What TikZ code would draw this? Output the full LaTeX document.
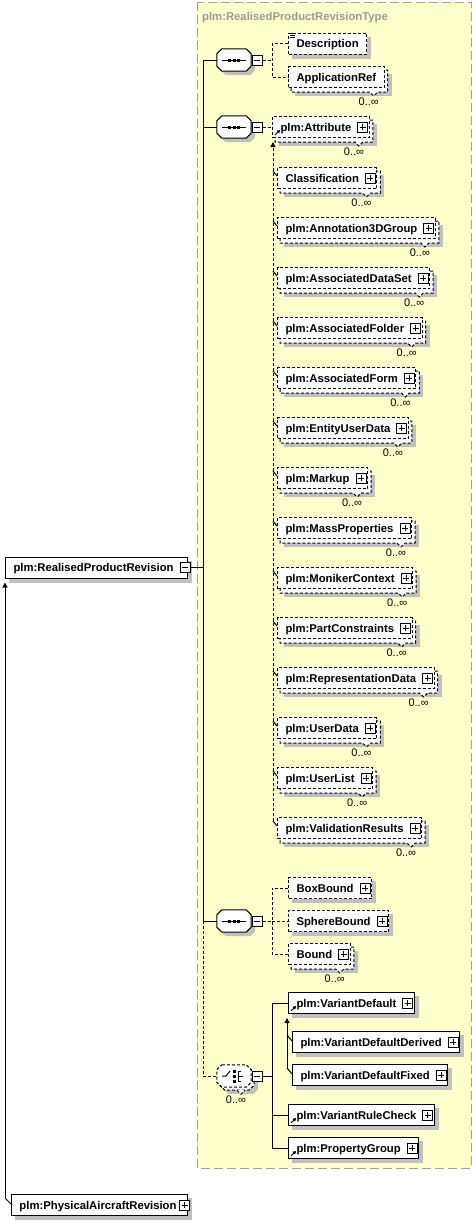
\documentclass[tikz,border=0pt]{standalone}
\usepackage{fontspec}
\setmainfont{Liberation Sans}
\usetikzlibrary{calc,arrows.meta}
\pgfdeclarelayer{bgl}
\pgfdeclarelayer{shl}
\pgfdeclarelayer{bkl}
\pgfsetlayers{bgl,shl,bkl,main}
\definecolor{typefill}{HTML}{FFFFCC}
\definecolor{shadowgray}{HTML}{C0C0C0}
\definecolor{titlegray}{HTML}{9A9A9A}
\definecolor{typeborder}{HTML}{A0A0A0}
\newcommand{\plsp}{\hspace*{10pt}}
\tikzset{
  ln/.style={line width=1pt, draw=black},
  opt/.style={dash pattern=on 3pt off 2pt},
  elem/.style={ln, fill=white, minimum height=21pt, inner xsep=8pt, inner ysep=0pt,
     text height=10.5pt, text depth=2.4pt,
     font=\fontsize{11.3}{13}\selectfont\bfseries, anchor=west},
  mult/.style={font=\fontsize{11}{12}\selectfont, inner sep=0pt},
  sqbox/.style={ln, solid, fill=white, minimum size=10pt, inner sep=0pt},
  minusbox/.style={sqbox, path picture={\draw[line width=1pt] ([xshift=2pt]path picture bounding box.west) -- ([xshift=-2pt]path picture bounding box.east);}},
  plusbox/.style={sqbox, path picture={\draw[line width=1pt] ([xshift=2pt]path picture bounding box.west) -- ([xshift=-2pt]path picture bounding box.east) ([yshift=-2pt]path picture bounding box.north) -- ([yshift=2pt]path picture bounding box.south);}},
  subtip/.style={-{Triangle[length=5pt,width=5pt]}},
  reftip/.style={-{Triangle[length=3pt,width=3.5pt]}},
  compnode/.style={minimum width=34pt, minimum height=22pt, inner sep=0pt},
}
% shadow of a single box
\newcommand{\elShadow}[1]{\begin{pgfonlayer}{shl}\fill[shadowgray] ($(#1.north west)+(4,4)$) rectangle ($(#1.south east)+(4,4)$);\end{pgfonlayer}}
% stacked box of a repeated element + multiplicity
\newcommand{\elBack}[2]{%
 \begin{pgfonlayer}{shl}\fill[shadowgray] ($(#1.north west)+(7,8)$) rectangle ($(#1.south east)+(7,8)$);\end{pgfonlayer}
 \begin{pgfonlayer}{bkl}\draw[ln,#2,fill=white] ($(#1.north west)+(3,4)$) -- ($(#1.north east)+(3,4)$) -- ($(#1.south east)+(3,4)$) -- ($(#1.south east)+(-7,4)$) -- ($(#1.south east)+(-11,8)$) -- ($(#1.south east)+(-15,4)$) -- ($(#1.south west)+(3,4)$) -- cycle;\end{pgfonlayer}
 \node[mult] (#1mult) at ($(#1.south east)+(-16,13.5)$) {0..∞};}
\newcommand{\elPlus}[1]{\node[plusbox] (#1p) at ($(#1.east)+(-7,0)$) {};}
\newcommand{\elRef}[1]{\draw[line width=1pt, reftip] ($(#1.south west)+(3,-3)$) -- ($(#1.south west)+(8,-8)$);}
\newcommand{\elOct}[4]{\path[#4] ($(#1.north west)+({5+#2},{#3})$) -- ($(#1.north east)+({-5+#2},{#3})$) -- ($(#1.north east)+({#2},{5+#3})$) -- ($(#1.south east)+({#2},{-5+#3})$) -- ($(#1.south east)+({-5+#2},{#3})$) -- ($(#1.south west)+({5+#2},{#3})$) -- ($(#1.south west)+({#2},{-5+#3})$) -- ($(#1.north west)+({#2},{5+#3})$) -- cycle;}
\newcommand{\elSeq}[2]{%
 \node[compnode] (#1) at (234,#2) {};
 \begin{pgfonlayer}{shl}\elOct{#1}{4}{4}{fill=shadowgray}\end{pgfonlayer}
 \elOct{#1}{0}{0}{ln,fill=white}
 \draw[line width=1pt] ($(#1.center)+(-12,0)$) -- ($(#1.center)+(12,0)$);
 \fill ($(#1.center)+(-6,-1.5)$) rectangle ($(#1.center)+(-3,1.5)$);
 \fill ($(#1.center)+(-1.5,-1.5)$) rectangle ($(#1.center)+(1.5,1.5)$);
 \fill ($(#1.center)+(3,-1.5)$) rectangle ($(#1.center)+(6,1.5)$);
 \node[minusbox] (#1m) at (257,#2) {};}
\newcommand{\elChoice}[2]{%
 \node[compnode] (#1) at (234,#2) {};
 \begin{pgfonlayer}{shl}\elOct{#1}{7}{7}{fill=shadowgray}\end{pgfonlayer}
 \elOct{#1}{3}{3}{ln,opt,fill=white}
 \draw[ln,opt,fill=white] ($(#1.south)+(3,3)$) -- ($(#1.south)+(7,7)$) -- ($(#1.south)+(11,3)$);
 \elOct{#1}{0}{0}{ln,opt,fill=white}
 \draw[line width=1pt] ($(#1.center)+(-12,0)$) -- ($(#1.center)+(-8,0)$) -- ($(#1.center)+(-4,-5)$);
 \fill ($(#1.center)+(-1.5,-6.5)$) rectangle ($(#1.center)+(1.5,-3.5)$);
 \fill ($(#1.center)+(-1.5,-1.5)$) rectangle ($(#1.center)+(1.5,1.5)$);
 \fill ($(#1.center)+(-1.5,3.5)$) rectangle ($(#1.center)+(1.5,6.5)$);
 \draw[line width=1pt] ($(#1.center)+(4,-5)$) -- ($(#1.center)+(4,5)$)
   ($(#1.center)+(4,-5)$) -- ($(#1.center)+(7,-5)$)
   ($(#1.center)+(4,5)$) -- ($(#1.center)+(7,5)$)
   ($(#1.center)+(4,0)$) -- ($(#1.center)+(9,0)$);
 \node[mult] (#1mult) at ($(#1.south)+(2,12)$) {0..∞};
 \node[minusbox] (#1m) at (257,#2) {};}
% substitution group member of plm:Attribute
\newcommand{\elSub}[3]{%
 \node[elem,opt] (#1) at (277,#2) {#3\plsp};
 \elBack{#1}{opt}\elPlus{#1}
 \draw[line width=1pt] ($(#1.west)+(-4,-7)$) -- ($(#1.west)+(0,-2)$);}

\begin{document}
\begin{tikzpicture}[x=1pt,y=-1pt]
\useasboundingbox (0,0) rectangle (476,1221);
% complex type frame
\begin{pgfonlayer}{bgl}
\fill[typefill] (197,2) rectangle (471,1168);
\draw[typeborder, line width=1pt, dash pattern=on 9pt off 4pt] (197,2) rectangle (471,1168);
\end{pgfonlayer}
\node[anchor=west, inner sep=0pt, text=titlegray, font=\fontsize{11.3}{13}\selectfont\bfseries] (title) at (202,18) {plm:RealisedProductRevisionType};

% main element
\node[elem] (main) at (5,567.5) {plm:RealisedProductRevision\hspace*{6pt}};
\elShadow{main}
\node[minusbox] (mainm) at ($(main.east)+(-3,0)$) {};

% derived element
\node[elem] (phys) at (11,1205) {plm:PhysicalAircraftRevision\hspace*{3pt}};
\elShadow{phys}
\node[plusbox] (physp) at ($(phys.east)+(-3,0)$) {};

% compositors
\elSeq{sqa}{60}
\elSeq{sqb}{127}
\elSeq{sqc}{921}
\elChoice{ch}{1076}

\coordinate (tr) at (203,0);
\coordinate (br) at (272,0);

% sequence 1
\node[elem,opt] (desc) at (288,43.5) {Description};
\elShadow{desc}
\draw[line width=0.7pt] ($(desc.north west)+(2,1)$) -- +(5,0) ($(desc.north west)+(2,3)$) -- +(5,0) ($(desc.north west)+(2,5)$) -- +(5,0);
\node[elem,opt] (appref) at (288,77) {ApplicationRef};
\elBack{appref}{opt}

% sequence 2
\node[elem,opt] (attr) at (272,127) {plm:Attribute\plsp};
\elBack{attr}{opt}\elPlus{attr}\elRef{attr}
\elSub{s1}{178}{Classification}
\elSub{s2}{228}{plm:Annotation3DGroup}
\elSub{s3}{278}{plm:AssociatedDataSet}
\elSub{s4}{328}{plm:AssociatedFolder}
\elSub{s5}{378}{plm:AssociatedForm}
\elSub{s6}{428}{plm:EntityUserData}
\elSub{s7}{478}{plm:Markup}
\elSub{s8}{528}{plm:MassProperties}
\elSub{s9}{578}{plm:MonikerContext}
\elSub{s10}{628}{plm:PartConstraints}
\elSub{s11}{678}{plm:RepresentationData}
\elSub{s12}{728}{plm:UserData}
\elSub{s13}{778}{plm:UserList}
\elSub{s14}{828}{plm:ValidationResults}

% sequence 3
\node[elem,opt] (boxb) at (288,888) {BoxBound\plsp};
\elShadow{boxb}\elPlus{boxb}
\node[elem,opt] (sphb) at (288,921) {SphereBound\plsp};
\elShadow{sphb}\elPlus{sphb}
\node[elem,opt] (bnd) at (288,954) {Bound\plsp};
\elBack{bnd}{opt}\elPlus{bnd}

% choice
\node[elem] (vdef) at (288,1003) {plm:VariantDefault\plsp};
\elShadow{vdef}\elPlus{vdef}\elRef{vdef}
\node[elem] (vdder) at (292,1042) {plm:VariantDefaultDerived\plsp};
\elShadow{vdder}\elPlus{vdder}
\node[elem] (vdfix) at (292,1075) {plm:VariantDefaultFixed\plsp};
\elShadow{vdfix}\elPlus{vdfix}
\node[elem] (vrule) at (288,1115) {plm:VariantRuleCheck\plsp};
\elShadow{vrule}\elPlus{vrule}\elRef{vrule}
\node[elem] (pgrp) at (288,1148) {plm:PropertyGroup\plsp};
\elShadow{pgrp}\elPlus{pgrp}\elRef{pgrp}

% trunk
\draw[ln] (sqa.west) -- (sqa.west -| tr) -- (sqc.west -| tr) -- (sqc.west);
\draw[ln] (sqb.west) -- (sqb.west -| tr);
\draw[ln] (mainm.east) -- (mainm.east -| tr);
\draw[ln,opt] (sqc.west -| tr) -- (ch.west -| tr) -- (ch.west);

% sequence 1 links
\draw[ln,opt] (sqam.east) -- (sqam.east -| br);
\draw[ln,opt] (desc.west) -- (desc.west -| br) -- (appref.west -| br) -- (appref.west);
% sequence 2 links
\draw[ln,opt] (sqbm.east) -- (attr.west);
\draw[ln,opt,subtip] ($(s14.west)+(-4,-7)$) -- ($(attr.south west)+(1,4)$);
% sequence 3 links
\draw[ln,opt] (sqcm.east) -- (sqcm.east -| br);
\draw[ln,opt] (boxb.west) -- (boxb.west -| br) -- (bnd.west -| br) -- (bnd.west);
\draw[ln,opt] (sphb.west -| br) -- (sphb.west);
% choice links
\draw[ln] (chm.east) -- (chm.east -| br);
\draw[ln] (vdef.west) -- (vdef.west -| br) -- (pgrp.west -| br) -- (pgrp.west);
\draw[ln] (vrule.west -| br) -- (vrule.west);
\draw[ln,subtip] ($(vdfix.west)+(-5,-7)$) -- ($(vdef.south west)+(-1,4)$);
\draw[ln] ($(vdder.west)+(-5,-7)$) -- ($(vdder.west)+(0,-1)$);
\draw[ln] ($(vdfix.west)+(-5,-7)$) -- ($(vdfix.west)+(0,-1)$);
% substitution of main element
\draw[ln,subtip] ($(phys.west)+(-6,-7)$) -- ($(main.south west)+(0,4)$);
\draw[ln] ($(phys.west)+(-6,-7)$) -- ($(phys.west)+(0,-1)$);
\end{tikzpicture}
\end{document}
